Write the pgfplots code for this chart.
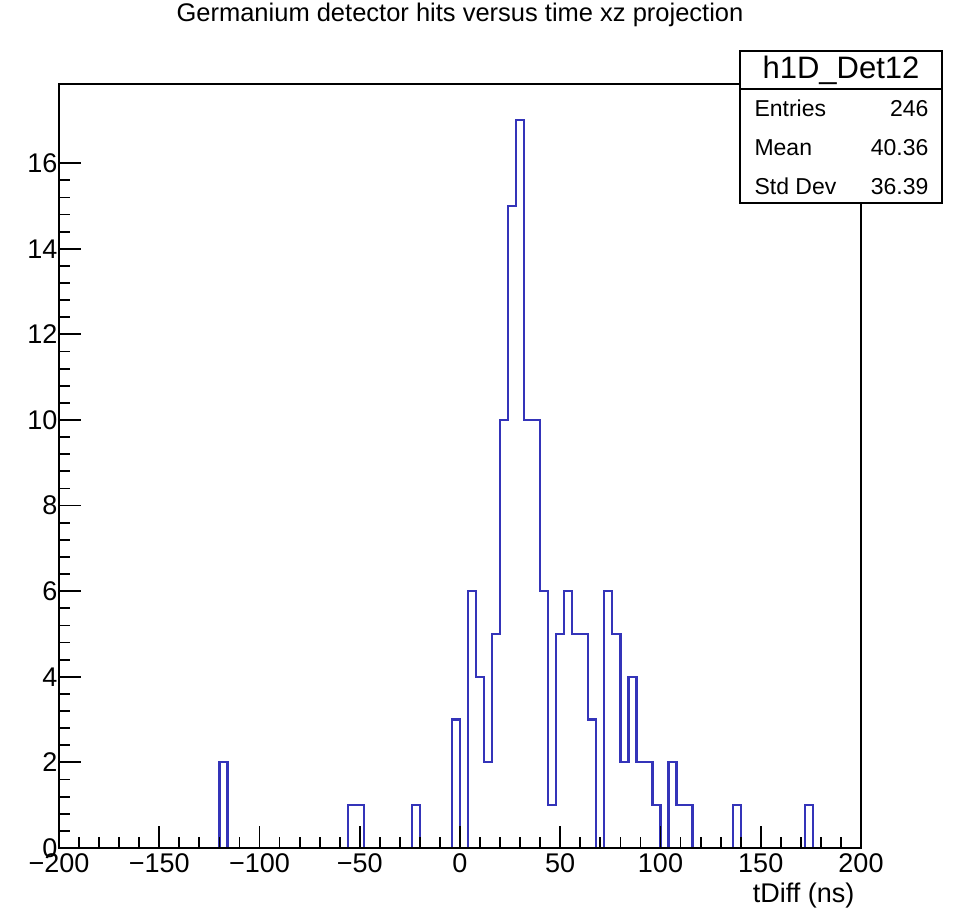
\documentclass[border=0pt]{standalone}
\usepackage{fontspec}
\setmainfont{Liberation Sans}
\usepackage{pgfplots}
\pgfplotsset{compat=1.18}
\definecolor{histblue}{RGB}{52,52,185}
\begin{document}
\begin{tikzpicture}[x=1pt,y=1pt]
\path[use as bounding box] (0,0) rectangle (959,916);
\begin{axis}[
  at={(59pt,68pt)}, anchor=south west,
  scale only axis, width=802pt, height=764pt,
  xmin=-200, xmax=200, ymin=0, ymax=17.85,
  xtick={-200,-150,...,200},
  xticklabels={−200,−150,−100,−50,0,50,100,150,200},
  minor x tick num=4,
  ytick={0,2,...,16},
  minor y tick num=4,
  tick align=inside, xtick pos=bottom, ytick pos=left,
  major tick length=22pt, minor tick length=11pt,
  tick style={black, line width=1.8pt},
  axis line style={black, line width=1.8pt},
  axis on top,
  /pgf/number format/assume math mode=true,
  ticklabel style={font=\fontsize{27}{31}\selectfont},
  xticklabel style={yshift=-2pt},
  yticklabel style={xshift=2pt},
  title={Germanium detector hits versus time xz projection},
  title style={at={(axis description cs:0.5,1)}, anchor=base, yshift=56pt, font=\fontsize{25.5}{30}\selectfont},
  xlabel={tDiff (ns)},
  xlabel style={at={(axis description cs:1,0)}, anchor=base east, yshift=-55pt, xshift=-3pt, font=\fontsize{27}{32}\selectfont},
]
\addplot[const plot, histblue, line width=2.2pt] coordinates {
(-200,0) (-120,2) (-116,0) (-56,1) (-52,1) (-48,0) (-24,1) (-20,0)
(-4,3) (0,0) (4,6) (8,4) (12,2) (16,5) (20,10) (24,15) (28,17)
(32,10) (36,10) (40,6) (44,1) (48,5) (52,6) (56,5) (60,5) (64,3)
(68,0) (72,6) (76,5) (80,2) (84,4) (88,2) (92,2) (96,1) (100,0)
(104,2) (108,1) (112,1) (116,0) (136,1) (140,0) (172,1) (176,0) (200,0)
};
\end{axis}
% statistics box
\draw[black, line width=1.8pt, fill=white] (740,713) rectangle (942,865);
\draw[black, line width=1.8pt] (740,827) -- (942,827);
\node[anchor=center, font=\fontsize{31}{36}\selectfont] at (841,846) {h1D\_Det12};
\node[anchor=base west, font=\fontsize{23}{27}\selectfont] at (751,799) {Entries};
\node[anchor=base east, font=\fontsize{23}{27}\selectfont] at (932,799) {246};
\node[anchor=base west, font=\fontsize{23}{27}\selectfont] at (751,760) {Mean};
\node[anchor=base east, font=\fontsize{23}{27}\selectfont] at (932,760) {40.36};
\node[anchor=base west, font=\fontsize{23}{27}\selectfont] at (751,721) {Std Dev};
\node[anchor=base east, font=\fontsize{23}{27}\selectfont] at (932,721) {36.39};
\end{tikzpicture}
\end{document}
